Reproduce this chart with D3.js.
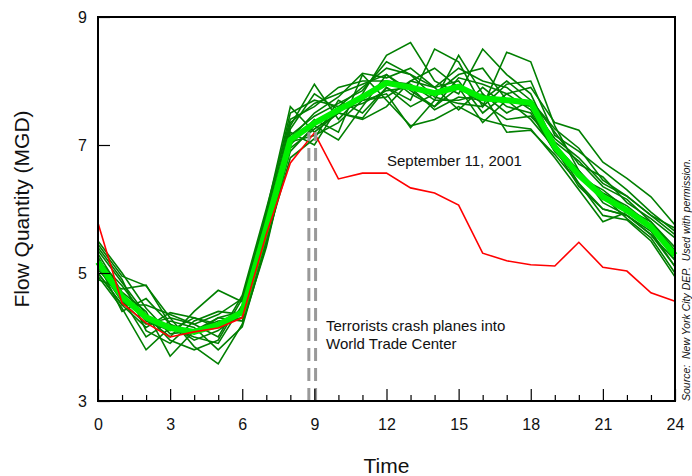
<!DOCTYPE html>
<html>
<head>
<meta charset="utf-8">
<script src="https://cdn.jsdelivr.net/npm/d3@7"></script>
<style>
  body { margin: 0; background: #fff; }
  svg { display: block; font-family: "Liberation Sans", Arial, sans-serif; }
</style>
</head>
<body>
<div id="chart"></div>
<script>
// hours of the day, 0..24
const hours = d3.range(0, 25);
const xMajorTicks = [0, 3, 6, 9, 12, 15, 18, 21, 24];
const yTicks = [3, 5, 7, 9];

// September 11, 2001
const sept11 = [5.78, 4.53, 4.22, 4.00, 4.08, 4.14, 4.30, 5.60, 6.72, 7.19, 6.47, 6.56, 6.56, 6.33, 6.25, 6.06, 5.31, 5.19, 5.13, 5.11, 5.48, 5.09, 5.03, 4.69, 4.56];

// average of the normal days
const average = [5.17, 4.63, 4.31, 4.14, 4.08, 4.19, 4.39, 5.70, 7.08, 7.34, 7.55, 7.75, 7.97, 7.90, 7.81, 7.91, 7.73, 7.70, 7.66, 6.97, 6.53, 6.19, 5.98, 5.72, 5.28];

// individual normal days
const day1  = [5.45, 4.95, 4.80, 4.30, 4.20, 4.35, 4.60, 5.90, 7.50, 7.70, 7.60, 7.90, 8.20, 8.10, 7.90, 8.20, 8.00, 7.90, 7.60, 7.10, 6.80, 6.40, 6.20, 5.90, 5.60];
const day2  = [4.95, 4.45, 3.80, 4.15, 4.00, 3.90, 4.50, 5.80, 7.30, 7.95, 7.40, 7.80, 8.40, 8.60, 8.00, 7.80, 8.50, 8.10, 7.80, 7.00, 6.40, 6.00, 5.90, 5.60, 5.20];
const day3  = [5.30, 4.70, 4.40, 3.70, 4.10, 4.30, 4.25, 5.50, 6.80, 7.10, 7.70, 7.50, 7.90, 7.70, 8.50, 8.30, 7.60, 8.45, 8.30, 7.30, 6.60, 6.20, 5.85, 5.55, 5.00];
const day4  = [5.10, 4.55, 4.20, 4.30, 3.85, 3.58, 4.20, 5.40, 7.00, 7.40, 7.20, 8.10, 7.70, 7.30, 7.40, 7.60, 7.40, 7.30, 7.25, 6.80, 6.30, 5.80, 5.95, 5.70, 5.30];
const day5  = [5.20, 4.80, 4.30, 4.00, 4.40, 4.73, 4.55, 5.95, 7.60, 7.20, 7.50, 7.40, 7.60, 8.00, 7.90, 7.55, 7.90, 7.60, 7.50, 6.90, 6.50, 6.30, 6.00, 5.80, 5.40];
const day6  = [5.00, 4.50, 4.50, 4.35, 4.20, 4.00, 4.65, 6.00, 7.40, 7.60, 7.90, 8.00, 8.00, 7.95, 7.70, 8.40, 7.80, 7.50, 7.70, 7.20, 6.70, 6.50, 6.10, 5.85, 5.55];
const day7  = [5.40, 4.90, 4.10, 3.90, 4.25, 4.40, 4.35, 5.60, 6.90, 7.30, 7.08, 7.60, 8.10, 7.80, 7.60, 7.90, 7.35, 7.70, 7.60, 7.00, 6.60, 6.10, 5.90, 5.60, 5.10];
const day8  = [5.15, 4.40, 4.60, 4.20, 3.95, 4.10, 4.40, 5.85, 7.20, 7.00, 7.60, 7.70, 7.80, 7.27, 7.70, 7.70, 7.80, 7.20, 7.23, 6.85, 6.40, 5.90, 5.83, 5.50, 4.94];
const day9  = [5.05, 4.65, 4.25, 4.10, 4.30, 4.20, 4.30, 5.70, 7.10, 7.50, 7.75, 8.12, 8.05, 8.20, 7.90, 8.00, 7.50, 7.80, 7.90, 7.35, 7.23, 6.73, 6.48, 6.19, 5.75];
const day10 = [5.25, 4.60, 4.00, 4.25, 4.15, 3.80, 4.16, 5.45, 6.95, 7.25, 7.50, 7.42, 7.90, 7.60, 7.80, 8.10, 8.20, 7.70, 7.40, 6.95, 6.35, 6.00, 5.90, 5.65, 5.10];
const day11 = [4.90, 4.75, 4.81, 4.20, 4.05, 4.30, 4.40, 5.75, 7.15, 7.45, 7.65, 7.85, 8.30, 8.10, 7.75, 7.65, 7.60, 7.95, 8.00, 7.15, 6.90, 6.60, 6.30, 5.95, 5.65];
const day12 = [5.35, 4.85, 4.35, 3.95, 3.80, 3.95, 4.60, 5.90, 7.35, 7.65, 7.80, 7.95, 8.10, 7.85, 7.60, 8.05, 7.95, 7.80, 7.55, 6.90, 6.55, 6.25, 6.05, 5.75, 5.20];
const day13 = [5.00, 4.50, 4.15, 4.38, 4.30, 4.15, 4.45, 5.65, 7.05, 7.15, 7.35, 7.70, 7.75, 8.00, 8.20, 7.90, 7.65, 7.40, 7.45, 7.05, 6.75, 6.35, 6.15, 5.80, 5.35];
const day14 = [5.50, 5.00, 4.45, 4.05, 4.10, 4.25, 4.30, 5.55, 7.25, 7.80, 7.55, 7.65, 7.85, 7.90, 7.55, 7.75, 7.70, 8.00, 7.70, 7.25, 6.95, 6.45, 6.20, 5.90, 5.70];
const normalDays = [day1, day2, day3, day4, day5, day6, day7, day8, day9, day10, day11, day12, day13, day14];

// the two plane impacts, 8:46 and 9:03
const impactTimes = [8.77, 9.05];

const width = 692;
const height = 476;
const margin = { top: 17, right: 17, bottom: 75, left: 98 };

const svg = d3.select('#chart')
  .append('svg')
  .attr('width', width)
  .attr('height', height);

const x = d3.scaleLinear()
  .domain([0, 24])
  .range([margin.left, width - margin.right]);

const y = d3.scaleLinear()
  .domain([3, 9])
  .range([height - margin.bottom - 0, margin.top]);

const line = d3.line()
  .x((d, i) => x(hours[i]))
  .y(d => y(d));

// normal days
svg.append('g')
  .selectAll('path')
  .data(normalDays)
  .enter()
  .append('path')
  .attr('d', line)
  .attr('fill', 'none')
  .attr('stroke', '#007f00')
  .attr('stroke-width', 1.6)
  .attr('stroke-linejoin', 'miter');

// average
svg.append('path')
  .datum(average)
  .attr('d', line)
  .attr('fill', 'none')
  .attr('stroke', '#00f000')
  .attr('stroke-width', 6)
  .attr('stroke-linejoin', 'round');

// September 11
svg.append('path')
  .datum(sept11)
  .attr('d', line)
  .attr('fill', 'none')
  .attr('stroke', '#ff0000')
  .attr('stroke-width', 1.6);

// impact markers
svg.append('g')
  .selectAll('line')
  .data(impactTimes)
  .enter()
  .append('line')
  .attr('x1', d => x(d))
  .attr('x2', d => x(d))
  .attr('y1', y(3))
  .attr('y2', y(7.2))
  .attr('stroke', '#999999')
  .attr('stroke-width', 3)
  .attr('stroke-dasharray', '13,7');

// frame
svg.append('rect')
  .attr('x', x(0))
  .attr('y', y(9))
  .attr('width', x(24) - x(0))
  .attr('height', y(3) - y(9))
  .attr('fill', 'none')
  .attr('stroke', '#000')
  .attr('stroke-width', 2);

// x axis, ticks pointing inward
const xAxisMinor = d3.axisBottom(x)
  .tickValues(hours.filter(h => h % 3 !== 0))
  .tickSize(-6)
  .tickFormat('');
const xAxis = d3.axisBottom(x)
  .tickValues(xMajorTicks)
  .tickSize(-12)
  .tickPadding(18)
  .tickFormat(d3.format('d'));

const gxMinor = svg.append('g')
  .attr('transform', `translate(0,${y(3)})`)
  .call(xAxisMinor);
gxMinor.select('.domain').remove();
gxMinor.selectAll('line').attr('stroke-width', 1.2);

const gx = svg.append('g')
  .attr('transform', `translate(0,${y(3)})`)
  .call(xAxis);
gx.select('.domain').remove();
gx.selectAll('line').attr('stroke-width', 1.2);
gx.selectAll('text')
  .attr('font-size', 16)
  .attr('font-family', '"Liberation Sans", Arial, sans-serif')
  .attr('fill', '#111');

// y axis
const yAxis = d3.axisLeft(y)
  .tickValues(yTicks)
  .tickSize(-12)
  .tickPadding(11)
  .tickFormat(d3.format('d'));
const gy = svg.append('g')
  .attr('transform', `translate(${x(0)},0)`)
  .call(yAxis);
gy.select('.domain').remove();
gy.selectAll('line').attr('stroke-width', 1.2);
gy.selectAll('text')
  .attr('font-size', 16)
  .attr('font-family', '"Liberation Sans", Arial, sans-serif')
  .attr('fill', '#111');

// axis titles
svg.append('text')
  .attr('x', (x(0) + x(24)) / 2)
  .attr('y', 473)
  .attr('text-anchor', 'middle')
  .attr('font-size', 21)
  .attr('fill', '#111')
  .text('Time');

svg.append('text')
  .attr('transform', `translate(29,${(y(3) + y(9)) / 2}) rotate(-90)`)
  .attr('text-anchor', 'middle')
  .attr('font-size', 21)
  .attr('fill', '#111')
  .text('Flow Quantity (MGD)');

// annotations
svg.append('text')
  .attr('x', 387)
  .attr('y', 166)
  .attr('font-size', 15)
  .attr('fill', '#111')
  .text('September 11, 2001');

const note = svg.append('text')
  .attr('font-size', 15)
  .attr('fill', '#111');
note.append('tspan').attr('x', 326).attr('y', 331).text('Terrorists crash planes into');
note.append('tspan').attr('x', 326).attr('y', 349).text('World Trade Center');

svg.append('text')
  .attr('transform', `translate(690,${y(3)}) rotate(-90)`)
  .attr('font-size', 10.5)
  .attr('font-style', 'italic')
  .attr('fill', '#111')
  .style('white-space', 'pre')
  .text('Source:  New York City DEP.  Used with permission.');
</script>
</body>
</html>
